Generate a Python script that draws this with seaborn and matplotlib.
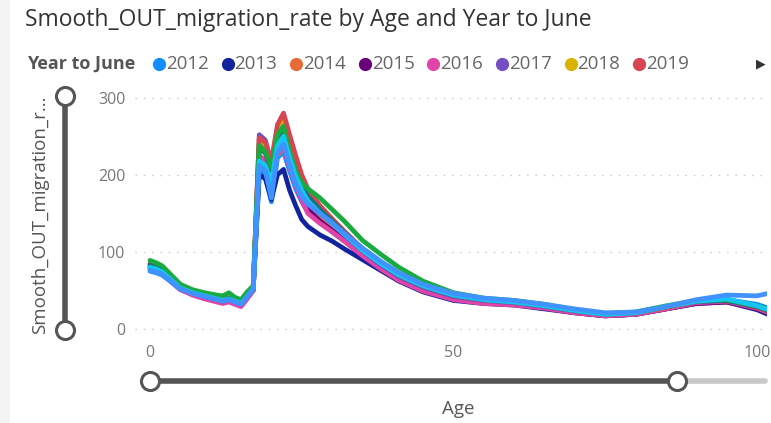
import pandas as pd
import matplotlib.pyplot as plt
import seaborn as sns
import numpy as np
from matplotlib.patches import Rectangle
from matplotlib.lines import Line2D

ages = [0, 1, 2, 3, 5, 7, 9, 11, 12, 13, 14, 15, 16, 17, 18, 19, 20, 21, 22, 23, 24,
        25, 26, 28, 30, 32, 35, 38, 41, 45, 50, 55, 60, 65, 70, 75, 80, 85, 90, 95, 100, 103]

y2012 = [75, 73, 70, 64, 51, 45, 41, 37, 35, 37, 34, 31, 40, 50, 205, 198, 165, 222, 230, 205, 182,
         165, 152, 138, 126, 114, 96, 80, 66, 52, 41, 36, 33, 28, 22, 18, 19, 26, 34, 38, 32, 24]
y2013 = [78, 76, 72, 66, 52, 46, 42, 38, 36, 38, 35, 32, 41, 50, 200, 195, 168, 200, 207, 180, 160,
         142, 133, 122, 114, 104, 90, 76, 62, 48, 37, 33, 31, 26, 21, 17, 19, 26, 33, 35, 25, 15]
y2014 = [84, 81, 77, 70, 55, 48, 43, 39, 37, 39, 36, 33, 42, 52, 240, 232, 200, 225, 235, 212, 190,
         173, 160, 145, 132, 118, 98, 81, 67, 53, 42, 36, 33, 28, 22, 18, 20, 27, 34, 36, 27, 19]
y2015 = [80, 78, 74, 67, 53, 46, 41, 37, 35, 37, 34, 31, 41, 51, 222, 215, 190, 232, 240, 215, 190,
         170, 155, 140, 128, 115, 95, 78, 64, 50, 39, 34, 32, 27, 21, 17, 19, 26, 33, 35, 26, 18]
y2016 = [79, 77, 73, 66, 51, 44, 39, 35, 33, 35, 32, 29, 39, 50, 225, 218, 185, 228, 235, 210, 186,
         167, 150, 137, 126, 114, 95, 78, 63, 49, 38, 33, 31, 27, 21, 17, 19, 26, 34, 36, 27, 18]
y2017 = [82, 80, 76, 69, 54, 47, 42, 38, 36, 38, 35, 32, 42, 52, 252, 245, 215, 250, 258, 235, 208,
         186, 170, 152, 137, 122, 101, 83, 68, 54, 42, 37, 34, 29, 23, 19, 21, 28, 35, 37, 28, 20]
y2018 = [84, 82, 78, 70, 55, 48, 43, 39, 37, 39, 36, 33, 43, 53, 246, 240, 212, 260, 272, 245, 218,
         195, 178, 158, 142, 126, 104, 86, 70, 56, 44, 38, 35, 30, 24, 19, 21, 28, 36, 38, 29, 21]
y2019 = [85, 83, 79, 71, 56, 49, 44, 40, 38, 40, 37, 34, 44, 54, 248, 242, 218, 265, 280, 252, 225,
         200, 182, 160, 143, 127, 104, 86, 70, 56, 44, 38, 35, 30, 24, 19, 21, 28, 36, 38, 28, 20]
y2020 = [83, 81, 77, 70, 55, 48, 43, 39, 37, 40, 37, 34, 43, 53, 235, 228, 205, 248, 255, 228, 205,
         186, 172, 155, 140, 125, 104, 86, 70, 56, 44, 38, 35, 30, 24, 19, 21, 29, 36, 37, 29, 21]
y2021 = [89, 86, 82, 74, 58, 51, 47, 44, 43, 47, 41, 38, 48, 56, 238, 230, 210, 252, 263, 230, 205,
         190, 182, 170, 155, 140, 115, 97, 80, 62, 47, 40, 37, 32, 25, 20, 22, 30, 37, 38, 30, 24]
y2022 = [80, 78, 74, 67, 53, 47, 43, 39, 37, 39, 36, 33, 42, 52, 218, 212, 190, 238, 250, 222, 198,
         180, 166, 150, 137, 123, 102, 85, 70, 56, 44, 38, 35, 30, 24, 19, 21, 29, 36, 39, 30, 22]
y2023 = [76, 74, 71, 65, 52, 46, 42, 38, 36, 38, 35, 32, 42, 52, 212, 205, 170, 228, 240, 212, 188,
         172, 162, 150, 138, 124, 105, 88, 73, 58, 46, 40, 37, 32, 26, 21, 22, 29, 38, 44, 43, 48]

years = ['2012', '2013', '2014', '2015', '2016', '2017', '2018', '2019', '2020', '2021', '2022', '2023']
colors = ['#118DFF', '#12239E', '#E66C37', '#6B007B', '#E044A7', '#744EC2',
          '#D9B300', '#D64550', '#197278', '#1AAB40', '#15C6F4', '#4092FF']
legend_years = years[:8]

series = [y2012, y2013, y2014, y2015, y2016, y2017, y2018, y2019, y2020, y2021, y2022, y2023]
df = pd.concat([pd.DataFrame({'Age': ages, 'rate': s, 'Year': yr}) for yr, s in zip(years, series)])

sns.set_style('white')
plt.rcParams['font.family'] = ['Open Sans', 'DejaVu Sans']

W, H = 771, 423
fig = plt.figure(figsize=(W / 100, H / 100), dpi=100)
fig.patch.set_facecolor('#F4F4F4')
fig.patches.append(Rectangle((10 / W, 0), 1, 1, transform=fig.transFigure,
                             facecolor='white', edgecolor='none', zorder=-10))

ax = fig.add_axes([135 / W, 1 - 337 / H, (767 - 135) / W, (337 - 90) / H])
ax.patch.set_alpha(0)
sns.lineplot(data=df, x='Age', y='rate', hue='Year', palette=dict(zip(years, colors)),
             linewidth=3.4, legend=False, ax=ax, solid_joinstyle='round')
ax.set_xlim(-2.47, 101.65)
ax.set_ylim(-10.4, 310)
ax.set_yticks([0, 100, 200, 300])
ax.set_xticks([0, 50, 100])
for y in [0, 100, 200, 300]:
    ax.axhline(y, color='#C8C8C8', lw=1, ls=(0, (1, 5)), zorder=0)
for s in ax.spines.values():
    s.set_visible(False)
ax.tick_params(axis='both', length=0, labelsize=11.5, labelcolor='#777777')
ax.tick_params(axis='y', pad=7)
ax.tick_params(axis='x', pad=6)
ax.set_xlabel('')
ax.set_ylabel('')

# title and legend
fig.text(25 / W, 1 - 20 / H, 'Smooth_OUT_migration_rate by Age and Year to June',
         fontsize=16.5, color='#333333', va='center')
fig.text(27 / W, 1 - 64 / H, 'Year to June', fontsize=13, fontweight='bold',
         color='#555555', va='center')
for i, (yr, c) in enumerate(zip(legend_years, colors)):
    x0 = 159 + i * 68.6
    fig.add_artist(Line2D([x0 / W], [1 - 64 / H], marker='o', markersize=8.5,
                          color=c, transform=fig.transFigure))
    fig.text((x0 + 7) / W, 1 - 64 / H, yr, fontsize=13.5, color='#666666', va='center')
fig.text(761 / W, 1 - 64 / H, '\u25B6', fontsize=9, color='#333333', va='center', ha='center',
         family=['DejaVu Sans'])

# y-axis title with range slider
fig.text(40 / W, 1 - 215 / H, 'Smooth_OUT_migration_r...', rotation=90, fontsize=13.5,
         color='#555555', va='center', ha='center')
fig.add_artist(Line2D([65 / W, 65 / W], [1 - 96 / H, 1 - 330 / H], color='#555555',
                      lw=4, transform=fig.transFigure))
for yy in [96, 330]:
    fig.add_artist(Line2D([65 / W], [1 - yy / H], marker='o', markersize=13, color='#555555',
                          markerfacecolor='white', markeredgewidth=2.2, transform=fig.transFigure))

# x-axis range slider
fig.add_artist(Line2D([677 / W, 765 / W], [1 - 381 / H] * 2, color='#C8C8C8',
                      lw=4, solid_capstyle='round', transform=fig.transFigure))
fig.add_artist(Line2D([150 / W, 677 / W], [1 - 381 / H] * 2, color='#555555',
                      lw=4, transform=fig.transFigure))
for xx in [150, 677]:
    fig.add_artist(Line2D([xx / W], [1 - 381 / H], marker='o', markersize=13, color='#555555',
                          markerfacecolor='white', markeredgewidth=2.2, transform=fig.transFigure))
fig.text(458 / W, 1 - 409 / H, 'Age', fontsize=13.5, color='#555555', va='center', ha='center')

fig.savefig('out.png', dpi=100)
